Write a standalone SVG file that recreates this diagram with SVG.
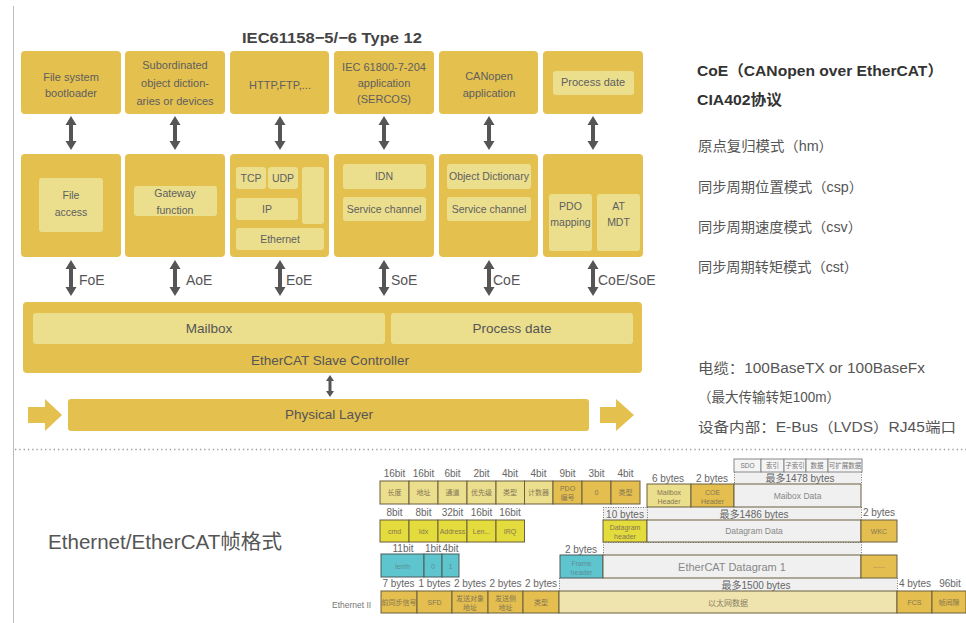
<svg xmlns="http://www.w3.org/2000/svg" width="966" height="623" viewBox="0 0 966 623">
<style>
text{font-family:'Liberation Sans','Noto Sans CJK SC',sans-serif}
.box{fill:#e4c04f}
.in{fill:#ebdf8e}
.bt{font-size:11px;fill:#5e5e5e;text-anchor:middle}
.it{font-size:10.5px;fill:#5e5e5e;text-anchor:middle}
.arr{fill:#555}
.lab{font-size:14px;fill:#555}
.big{font-size:13.5px;fill:#555;text-anchor:middle}
.rt{font-size:14px;fill:#555}
.hd{font-size:15px;fill:#333;font-weight:bold}
.g{fill:#e4bf4f;stroke:#6a5f3e;stroke-width:1}
.p{fill:#ebdf8e;stroke:#6a5f3e;stroke-width:1}
.y{fill:#e3dc3c;stroke:#6a5f3e;stroke-width:1}
.t{fill:#5ec5cf;stroke:#4a5a5a;stroke-width:1}
.c{fill:#efe4ae;stroke:#6a5f3e;stroke-width:1}
.l{fill:#f0f0f0;stroke:#6a5f3e;stroke-width:1}
.w{fill:#f4f4f4;stroke:#888;stroke-width:1}
.band{fill:#f0f0f0}
.dot{stroke:#777;stroke-width:1;stroke-dasharray:1 1.5;fill:none}
.lb{font-size:10px;fill:#666;text-anchor:middle}
.sm{font-size:7px;fill:#857654;text-anchor:middle}
.st{font-size:7px;fill:#5c8f96;text-anchor:middle}
.gr{fill:#888;text-anchor:middle}
</style>
<rect width="966" height="623" fill="#ffffff"/>
<line x1="13.5" y1="6" x2="13.5" y2="623" stroke="#bdbdbd" stroke-width="1"/>
<line x1="15" y1="449.5" x2="966" y2="449.5" stroke="#999" stroke-width="1.3" stroke-dasharray="1.3 3"/>

<text x="242" y="43" textLength="180" lengthAdjust="spacingAndGlyphs" style="font-size:15.5px;fill:#444;font-weight:bold">IEC61158−5/−6 Type 12</text>

<!-- top row -->
<g id="top-file"><rect class="box" x="21" y="51" width="100" height="63" rx="4"/><text class="bt" x="71" y="81">File system</text><text class="bt" x="71" y="97">bootloader</text></g>
<g id="top-sub"><rect class="box" x="125" y="51" width="100" height="63" rx="4"/><text class="bt" x="175" y="69">Subordinated</text><text class="bt" x="175" y="87">object diction-</text><text class="bt" x="175" y="105">aries or devices</text></g>
<g id="top-http"><rect class="box" x="230" y="51" width="99" height="63" rx="4"/><text class="bt" x="280" y="89">HTTP,FTP,...</text></g>
<g id="top-iec"><rect class="box" x="334" y="51" width="100" height="63" rx="4"/><text class="bt" x="384" y="71">IEC 61800-7-204</text><text class="bt" x="384" y="87">application</text><text class="bt" x="384" y="103">(SERCOS)</text></g>
<g id="top-canopen"><rect class="box" x="439" y="51" width="99" height="63" rx="4"/><text class="bt" x="489" y="80">CANopen</text><text class="bt" x="489" y="97">application</text></g>
<g id="top-process"><rect class="box" x="543" y="51" width="100" height="63" rx="4"/><rect class="in" x="553" y="71" width="81" height="24" rx="3"/><text class="bt" x="593" y="86">Process date</text></g>

<!-- middle row -->
<g id="mid-file"><rect class="box" x="21" y="154" width="100" height="103" rx="4"/><rect class="in" x="39" y="178" width="64" height="54" rx="3"/><text class="it" x="71" y="199">File</text><text class="it" x="71" y="216">access</text></g>
<g id="mid-gateway"><rect class="box" x="125" y="154" width="100" height="103" rx="4"/><rect class="in" x="134" y="186" width="83" height="30" rx="3"/><text class="it" x="175" y="197">Gateway</text><text class="it" x="175" y="214">function</text></g>
<g id="mid-tcpip"><rect class="box" x="230" y="154" width="99" height="103" rx="4"/>
<rect class="in" x="236" y="167" width="30" height="22" rx="3"/><text class="it" x="251" y="182">TCP</text>
<rect class="in" x="268" y="167" width="30" height="22" rx="3"/><text class="it" x="283" y="182">UDP</text>
<rect class="in" x="302" y="167" width="22" height="57" rx="3"/>
<rect class="in" x="236" y="198" width="62" height="22" rx="3"/><text class="it" x="267" y="213">IP</text>
<rect class="in" x="236" y="228" width="88" height="22" rx="3"/><text class="it" x="280" y="243">Ethernet</text></g>
<g id="mid-idn"><rect class="box" x="334" y="154" width="100" height="103" rx="4"/>
<rect class="in" x="343" y="164" width="83" height="25" rx="3"/><text class="it" x="384" y="180">IDN</text>
<rect class="in" x="343" y="197" width="83" height="24" rx="3"/><text class="it" x="384" y="213">Service channel</text></g>
<g id="mid-od"><rect class="box" x="439" y="154" width="99" height="103" rx="4"/>
<rect class="in" x="447" y="164" width="84" height="25" rx="3"/><text class="it" x="489" y="180">Object Dictionary</text>
<rect class="in" x="447" y="197" width="84" height="24" rx="3"/><text class="it" x="489" y="213">Service channel</text></g>
<g id="mid-pdo"><rect class="box" x="543" y="154" width="100" height="103" rx="4"/>
<rect class="in" x="549" y="194" width="43" height="57" rx="3"/><text class="it" x="570.5" y="210">PDO</text><text class="it" x="570.5" y="226">mapping</text>
<rect class="in" x="597" y="194" width="43" height="57" rx="3"/><text class="it" x="618.5" y="210">AT</text><text class="it" x="618.5" y="226">MDT</text></g>

<!-- controller -->
<g id="esc"><rect class="box" x="23" y="302" width="619" height="71" rx="4"/>
<rect class="in" x="33" y="313" width="352" height="31" rx="3"/><text class="big" x="209" y="333">Mailbox</text>
<rect class="in" x="391" y="313" width="242" height="31" rx="3"/><text class="big" x="512" y="333">Process date</text>
<text class="big" x="330" y="365">EtherCAT Slave Controller</text></g>
<g id="phy"><rect class="box" x="68" y="399" width="521" height="32" rx="3"/><text class="big" x="329" y="419">Physical Layer</text>
<path class="box" d="M28,407 H45 V399 L62,415 L45,431 V423 H28 Z"/>
<path class="box" d="M600,407 H616 V399 L634,415 L616,431 V423 H600 Z"/></g>

<!-- connectors -->
<g id="connectors">
<path class="arr" d="M71,116 L76.5,125 L73,125 L73,141 L76.5,141 L71,150 L65.5,141 L69,141 L69,125 L65.5,125 Z"/>
<path class="arr" d="M175,116 L180.5,125 L177,125 L177,141 L180.5,141 L175,150 L169.5,141 L173,141 L173,125 L169.5,125 Z"/>
<path class="arr" d="M280,116 L285.5,125 L282,125 L282,141 L285.5,141 L280,150 L274.5,141 L278,141 L278,125 L274.5,125 Z"/>
<path class="arr" d="M384,116 L389.5,125 L386,125 L386,141 L389.5,141 L384,150 L378.5,141 L382,141 L382,125 L378.5,125 Z"/>
<path class="arr" d="M489,116 L494.5,125 L491,125 L491,141 L494.5,141 L489,150 L483.5,141 L487,141 L487,125 L483.5,125 Z"/>
<path class="arr" d="M593,116 L598.5,125 L595,125 L595,141 L598.5,141 L593,150 L587.5,141 L591,141 L591,125 L587.5,125 Z"/>
<path class="arr" d="M71,260 L76.5,269 L73,269 L73,287 L76.5,287 L71,296 L65.5,287 L69,287 L69,269 L65.5,269 Z"/>
<path class="arr" d="M175,260 L180.5,269 L177,269 L177,287 L180.5,287 L175,296 L169.5,287 L173,287 L173,269 L169.5,269 Z"/>
<path class="arr" d="M280,260 L285.5,269 L282,269 L282,287 L285.5,287 L280,296 L274.5,287 L278,287 L278,269 L274.5,269 Z"/>
<path class="arr" d="M384,260 L389.5,269 L386,269 L386,287 L389.5,287 L384,296 L378.5,287 L382,287 L382,269 L378.5,269 Z"/>
<path class="arr" d="M489,260 L494.5,269 L491,269 L491,287 L494.5,287 L489,296 L483.5,287 L487,287 L487,269 L483.5,269 Z"/>
<path class="arr" d="M593,260 L598.5,269 L595,269 L595,287 L598.5,287 L593,296 L587.5,287 L591,287 L591,269 L587.5,269 Z"/>
<path class="arr" d="M330,375 L334,381 L331.5,381 L331.5,391 L334,391 L330,397 L326,391 L328.5,391 L328.5,381 L326,381 Z"/>
<text class="lab" x="79" y="285">FoE</text>
<text class="lab" x="186" y="285">AoE</text>
<text class="lab" x="286" y="285">EoE</text>
<text class="lab" x="391" y="285">SoE</text>
<text class="lab" x="493" y="285">CoE</text>
<text class="lab" x="598" y="285">CoE/SoE</text>
</g>

<!-- right texts -->
<g id="coe-info">
<text class="hd" x="697" y="76" textLength="246" lengthAdjust="spacingAndGlyphs">CoE（CANopen over EtherCAT）</text>
<text class="hd" x="697" y="105" textLength="85" lengthAdjust="spacingAndGlyphs">CIA402协议</text>
<text class="rt" x="698" y="151" textLength="135" lengthAdjust="spacingAndGlyphs">原点复归模式（hm）</text>
<text class="rt" x="698" y="192" textLength="165" lengthAdjust="spacingAndGlyphs">同步周期位置模式（csp）</text>
<text class="rt" x="698" y="232" textLength="164" lengthAdjust="spacingAndGlyphs">同步周期速度模式（csv）</text>
<text class="rt" x="698" y="272" textLength="160" lengthAdjust="spacingAndGlyphs">同步周期转矩模式（cst）</text>
<text class="rt" x="698" y="373" textLength="227" lengthAdjust="spacingAndGlyphs">电缆：100BaseTX or 100BaseFx</text>
<text class="rt" x="698" y="402" textLength="142" lengthAdjust="spacingAndGlyphs">（最大传输转矩100m）</text>
<text class="rt" x="698" y="432" textLength="258" lengthAdjust="spacingAndGlyphs">设备内部：E-Bus（LVDS）RJ45端口</text>
</g>

<text x="48" y="549" textLength="234" lengthAdjust="spacingAndGlyphs" style="font-size:20px;fill:#555">Ethernet/EtherCAT帧格式</text>

<!-- frame format -->
<g id="frame">
<!-- bands -->
<rect class="band" x="734" y="472" width="127" height="12"/>
<rect class="band" x="603" y="507" width="258" height="13"/>
<rect class="band" x="603" y="542" width="258" height="13"/>
<rect class="band" x="559" y="578" width="338" height="13"/>
<path class="dot" d="M734.5,472 V484 M861.5,472 V484 M603.5,507 V520 M647.5,507 V520 M861.5,507 V520 M603.5,542 V555 M861.5,542 V555 M559.5,578 V591 M897.5,578 V591 M603,542.5 H861 M603,507.5 H647"/>

<!-- SDO row -->
<rect class="w" x="734" y="459" width="27" height="13"/><text class="sm" style="fill:#777;font-size:6.5px" x="747.5" y="468">SDO</text>
<rect class="w" x="761" y="459" width="23" height="13"/><text class="sm" style="fill:#777;font-size:6.5px" x="772.5" y="468">索引</text>
<rect class="w" x="784" y="459" width="22" height="13"/><text class="sm" style="fill:#777;font-size:6.5px" x="795" y="468">子索引</text>
<rect class="w" x="806" y="459" width="22" height="13"/><text class="sm" style="fill:#777;font-size:6.5px" x="817" y="468">数据</text>
<rect class="w" x="828" y="459" width="34" height="13"/><text class="sm" style="fill:#777;font-size:6.5px" x="845" y="468">可扩展数据</text>

<!-- row 1 labels -->
<text class="lb" x="394.5" y="477">16bit</text><text class="lb" x="423.5" y="477">16bit</text><text class="lb" x="452.5" y="477">6bit</text><text class="lb" x="481.5" y="477">2bit</text><text class="lb" x="510" y="477">4bit</text><text class="lb" x="538.5" y="477">4bit</text><text class="lb" x="567.5" y="477">9bit</text><text class="lb" x="596.5" y="477">3bit</text><text class="lb" x="625.5" y="477">4bit</text>
<text class="lb" x="668" y="482">6 bytes</text><text class="lb" x="712" y="482">2 bytes</text><text class="lb" x="800" y="482">最多1478 bytes</text>
<!-- row 1 boxes -->
<rect class="p" x="380" y="481" width="29" height="23"/><text class="sm" x="394.5" y="495">长度</text>
<rect class="p" x="409" y="481" width="29" height="23"/><text class="sm" x="423.5" y="495">地址</text>
<rect class="p" x="438" y="481" width="29" height="23"/><text class="sm" x="452.5" y="495">通道</text>
<rect class="p" x="467" y="481" width="29" height="23"/><text class="sm" x="481.5" y="495">优先级</text>
<rect class="p" x="496" y="481" width="28.5" height="23"/><text class="sm" x="510" y="495">类型</text>
<rect class="p" x="524.5" y="481" width="28.5" height="23"/><text class="sm" x="538.5" y="495">计数器</text>
<rect class="g" x="553" y="481" width="29" height="23"/><text class="sm" x="567.5" y="490.5">PDO</text><text class="sm" x="567.5" y="499.5">编号</text>
<rect class="g" x="582" y="481" width="29" height="23"/><text class="sm" x="596.5" y="495">0</text>
<rect class="g" x="611" y="481" width="29" height="23"/><text class="sm" x="625.5" y="495">类型</text>
<rect class="p" x="647" y="484" width="44" height="23"/><text class="sm" x="669" y="494.5">Mailbox</text><text class="sm" x="669" y="503.5">Header</text>
<rect class="g" x="691" y="484" width="43" height="23"/><text class="sm" x="712.5" y="494.5">COE</text><text class="sm" x="712.5" y="503.5">Header</text>
<rect class="l" x="734" y="484" width="127" height="23"/><text class="gr" style="font-size:8.5px" x="797.5" y="498.5">Maibox Data</text>

<!-- row 2 -->
<text class="lb" x="394.5" y="516">8bit</text><text class="lb" x="423.5" y="516">8bit</text><text class="lb" x="452.5" y="516">32bit</text><text class="lb" x="481.5" y="516">16bit</text><text class="lb" x="510" y="516">16bit</text>
<text class="lb" x="625" y="518">10 bytes</text><text class="lb" x="754" y="518">最多1486 bytes</text><text class="lb" x="879" y="516">2 bytes</text>
<rect class="y" x="380" y="520" width="29" height="22"/><text class="sm" x="394.5" y="533.5">cmd</text>
<rect class="y" x="409" y="520" width="29" height="22"/><text class="sm" x="423.5" y="533.5">Idx</text>
<rect class="y" x="438" y="520" width="29" height="22"/><text class="sm" x="452.5" y="533.5">Address</text>
<rect class="y" x="467" y="520" width="29" height="22"/><text class="sm" x="481.5" y="533.5">Len...</text>
<rect class="y" x="496" y="520" width="28.5" height="22"/><text class="sm" x="510" y="533.5">IRQ</text>
<rect class="y" x="603" y="520" width="44" height="22"/><text class="sm" x="625" y="529.5">Datagram</text><text class="sm" x="625" y="538.5">header</text>
<rect class="l" x="647" y="520" width="214" height="22"/><text class="gr" style="font-size:8.5px" x="754" y="534">Datagram Data</text>
<rect class="g" x="861" y="520" width="36" height="22"/><text class="sm" x="879" y="534">WKC</text>

<!-- row 3 -->
<text class="lb" x="403" y="552">11bit</text><text class="lb" x="433" y="552">1bit</text><text class="lb" x="450.5" y="552">4bit</text><text class="lb" x="581" y="553">2 bytes</text>
<rect class="t" x="381" y="554" width="43" height="23"/><text class="st" x="402.5" y="568.5">lenth</text>
<rect class="t" x="424" y="554" width="18" height="23"/><text class="st" x="433" y="568.5">0</text>
<rect class="t" x="442" y="554" width="17" height="23"/><text class="st" x="450.5" y="568.5">1</text>
<rect class="t" x="560" y="555" width="43" height="23"/><text class="st" x="581.5" y="565.5">Frame</text><text class="st" x="581.5" y="574.5">header</text>
<rect class="l" x="603" y="555" width="258" height="23"/><text class="gr" style="font-size:11px" x="732" y="570.5">EtherCAT Datagram 1</text>
<rect class="g" x="861" y="555" width="36" height="23"/><text class="sm" x="879" y="568">......</text>

<!-- row 4 -->
<text class="lb" x="398.5" y="587">7 bytes</text><text class="lb" x="434.5" y="587">1 bytes</text><text class="lb" x="470" y="587">2 bytes</text><text class="lb" x="505.5" y="587">2 bytes</text><text class="lb" x="541" y="587">2 bytes</text>
<text class="lb" x="756" y="589">最多1500 bytes</text><text class="lb" x="915" y="587">4 bytes</text><text class="lb" x="950" y="587">96bit</text>
<text x="332" y="608" style="font-size:8.5px;fill:#777">Ethernet II</text>
<rect class="g" x="381" y="591" width="36" height="22"/><text class="sm" x="399" y="605">前同步信号</text>
<rect class="g" x="417" y="591" width="35" height="22"/><text class="sm" x="434.5" y="605">SFD</text>
<rect class="g" x="452" y="591" width="36" height="22"/><text class="sm" x="470" y="600.5">发送对象</text><text class="sm" x="470" y="609.5">地址</text>
<rect class="g" x="488" y="591" width="35" height="22"/><text class="sm" x="505.5" y="600.5">发送侧</text><text class="sm" x="505.5" y="609.5">地址</text>
<rect class="g" x="523" y="591" width="36" height="22"/><text class="sm" x="541" y="605">类型</text>
<rect class="c" x="559" y="591" width="338" height="22"/><text class="sm" style="font-size:8px;fill:#8a8064" x="728" y="605.5">以太网数据</text>
<rect class="g" x="897" y="591" width="35" height="22"/><text class="sm" x="914.5" y="605">FCS</text>
<rect class="g" x="932" y="591" width="34" height="22"/><text class="sm" x="949" y="605">帧间隙</text>
</g>
</svg>
